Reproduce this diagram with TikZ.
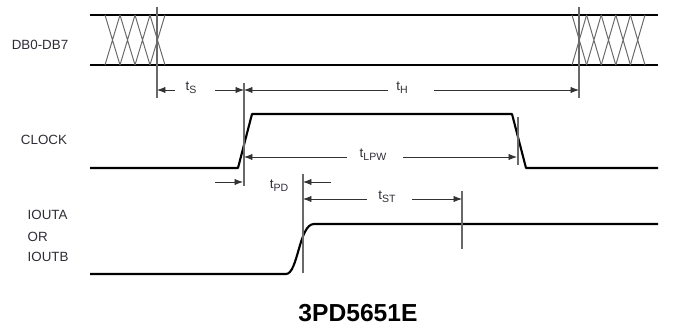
\documentclass[tikz,border=0pt]{standalone}
\usepackage{fontspec}
\setmainfont{Liberation Sans}
\usetikzlibrary{arrows.meta}
\definecolor{labcol}{RGB}{45,45,55}
\definecolor{dimcol}{RGB}{50,50,50}
\definecolor{markcol}{RGB}{105,105,105}
\newcommand{\tsub}[2]{#1\raisebox{-0.4ex}{\fontsize{7.5}{8}\selectfont #2}}

\begin{document}
\begin{tikzpicture}
        [x=0.025cm,y=-0.025cm,
         every node/.style={text=labcol,font=\fontsize{9.5}{11}\selectfont,inner sep=1pt},
         bus/.style={line width=1.5pt,black},
         wave/.style={line width=1.5pt,black,line join=round},
         hatch/.style={line width=0.7pt,markcol},
         marker/.style={line width=1pt,markcol},
         dim/.style={line width=0.6pt,dimcol,-{Latex[length=6pt,width=4.5pt]}}]
        \useasboundingbox (0,0) rectangle (675,327);

        % signal names
        \node (db) at (40,45) {DB0-DB7};
        \node (clk) at (44,140) {CLOCK};
        \node[anchor=west] (ioa) at (26,215) {IOUTA};
        \node[anchor=west] (ior) at (26,237) {OR};
        \node[anchor=west] (iob) at (26,257) {IOUTB};
        \node[text=black,font=\bfseries\fontsize{17.5}{19}\selectfont] (title) at (358,313) {3PD5651E};

        % data bus
        \draw[bus] (90,15) -- (658,15);
        \draw[bus] (90,65) -- (658,65);
        \foreach \i in {0,...,3}
            \draw[hatch] ({105+15*\i},15) -- ({120+15*\i},65) ({105+15*\i},65) -- ({120+15*\i},15);
        \foreach \i in {0,...,4}
            \draw[hatch] ({572+14.6*\i},15) -- ({586.6+14.6*\i},65) ({572+14.6*\i},65) -- ({586.6+14.6*\i},15);

        % waveforms
        \draw[wave] (90,168) -- (238,168) -- (252,114) -- (512,114) -- (526,168) -- (658,168);
        \draw[wave] (90,274) -- (286,274) .. controls (298,274) and (299,224) .. (314,224) -- (658,224);

        % marker lines
        \coordinate (s1) at (157,7);   \coordinate (s2) at (157,98);
        \coordinate (h1) at (579,7);   \coordinate (h2) at (579,98);
        \coordinate (c1) at (244,83);  \coordinate (c2) at (244,186);
        \coordinate (f1) at (518,117); \coordinate (f2) at (518,165);
        \coordinate (o1) at (303,174); \coordinate (o2) at (303,273);
        \coordinate (e1) at (462,191); \coordinate (e2) at (462,249);
        \foreach \from/\to in {s1/s2, h1/h2, c1/c2, f1/f2, o1/o2, e1/e2}
            \draw[marker] (\from) -- (\to);

        % timing labels
        \node (ts) at (191,88) {\tsub{t}{S}};
        \node (th) at (402,88) {\tsub{t}{H}};
        \node (tlpw) at (373,155) {\tsub{t}{LPW}};
        \node (tpd) at (279,186) {\tsub{t}{PD}};
        \node (tst) at (387,197) {\tsub{t}{ST}};

        % arrow ends
        \coordinate (a1) at (175,90);  \coordinate (a2) at (157,90);
        \coordinate (a3) at (215,90);  \coordinate (a4) at (244,90);
        \coordinate (a5) at (388,90);  \coordinate (a6) at (434,90);
        \coordinate (a7) at (579,90);
        \coordinate (b1) at (347,157); \coordinate (b2) at (244,157);
        \coordinate (b3) at (403,157); \coordinate (b4) at (517,157);
        \coordinate (d1) at (215,182); \coordinate (d2) at (243,182);
        \coordinate (d3) at (331,182); \coordinate (d4) at (303,182);
        \coordinate (g1) at (367,199); \coordinate (g2) at (303,199);
        \coordinate (g3) at (412,199); \coordinate (g4) at (462,199);
        \foreach \from/\to in {a1/a2, a3/a4, a5/a4, a6/a7, b1/b2, b3/b4, d1/d2, d3/d4, g1/g2, g3/g4}
            \draw[dim] (\from) -- (\to);

      \end{tikzpicture}
\end{document}
